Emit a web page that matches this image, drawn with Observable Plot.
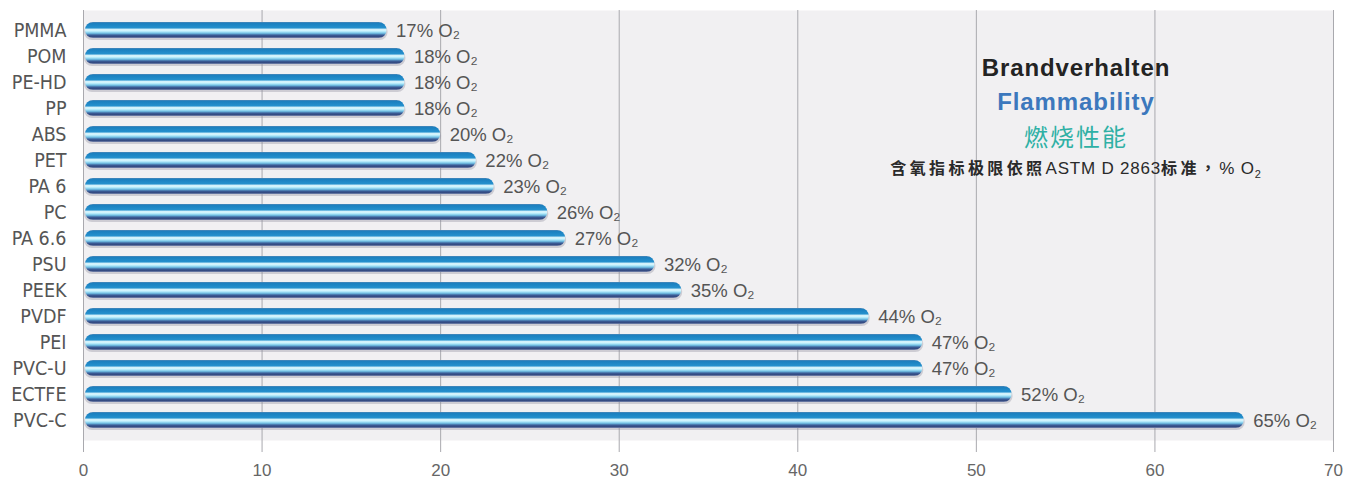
<!DOCTYPE html>
<html>
<head>
<meta charset="utf-8">
<script src="https://cdn.jsdelivr.net/npm/d3@7"></script>
<script src="https://cdn.jsdelivr.net/npm/@observablehq/plot@0.6"></script>
<style>
  html, body { margin: 0; padding: 0; background: #ffffff; }
  #wrap { position: relative; width: 1368px; height: 482px; }
  #legend { position: absolute; left: 866px; top: 51px; width: 420px; text-align: center; font-family: "Liberation Sans", Arial, sans-serif; white-space: nowrap; }
  #legend .t1 { font-size: 24px; font-weight: bold; color: #232323; line-height: 34px; letter-spacing: 0.9px; }
  #legend .t2 { font-size: 24px; font-weight: bold; color: #3c78bd; line-height: 34px; letter-spacing: 0.9px; }
  #legend .t3 { font-size: 24px; color: #2fb0a5; line-height: 33px; letter-spacing: 2px; font-family: "Noto Sans CJK SC", sans-serif; }
  #legend .t4 { font-size: 16px; font-weight: bold; color: #2a2a2a; line-height: 30px; letter-spacing: 3.4px; font-family: "Noto Sans CJK TC", "Liberation Sans", sans-serif; }
  #legend .t4 .lat { font-family: "Liberation Sans", Arial, sans-serif; font-weight: normal; font-size: 17px; letter-spacing: 0.8px; }
</style>
</head>
<body>
<div id="wrap">
  <div id="chart"></div>
  <div id="legend">
    <div class="t1">Brandverhalten</div>
    <div class="t2">Flammability</div>
    <div class="t3">燃烧性能</div>
    <div class="t4" lang="zh-TW">含氧指标极限依照<span class="lat">ASTM D 2863</span>标准，<span class="lat">% O<sub style="font-size:11px">2</sub></span></div>
  </div>
</div>
<script>
const materials = ["PMMA","POM","PE-HD","PP","ABS","PET","PA 6","PC","PA 6.6","PSU","PEEK","PVDF","PEI","PVC-U","ECTFE","PVC-C"];
const barValues = [17, 18, 18, 18, 20, 22, 23, 26, 27, 32, 33.5, 44, 47, 47, 52, 65];
const labelValues = [17, 18, 18, 18, 20, 22, 23, 26, 27, 32, 35, 44, 47, 47, 52, 65];
const xTicks = [0, 10, 20, 30, 40, 50, 60, 70];

const data = materials.map((m, i) => ({
  material: m,
  value: barValues[i],
  label: labelValues[i] + "% O\u2082"
}));

const sans = "'Liberation Sans', Arial, sans-serif";
const cond = "'DejaVu Sans Condensed', 'Liberation Sans', Arial, sans-serif";

const chart = Plot.plot({
  width: 1368,
  height: 482,
  marginLeft: 83,
  marginRight: 35,
  marginTop: 10,
  marginBottom: 42,
  style: { fontFamily: sans, background: "transparent" },
  x: { domain: [0, 70], ticks: xTicks, label: null },
  y: { domain: materials, padding: 0.4, align: 0.5, label: null },
  marks: [
    Plot.frame({ fill: "#f1f0f2", stroke: null }),
    Plot.ruleX(xTicks, { stroke: "#a9a9ae", strokeWidth: 1, insetBottom: -12 }),
    Plot.axisX({ ticks: xTicks, tickSize: 0, tickPadding: 23, fontSize: 17, fill: "#666666", color: "#666666", label: null }),
    Plot.axisY({ tickSize: 0, tickPadding: 17, fontSize: 19.5, fontFamily: cond, fill: "#555555", color: "#555555", label: null }),
    Plot.barX(data, { x: "value", y: "material", fill: "#8a8a9a", fillOpacity: 0.35, rx: 8, dy: 2, dx: 1 }),
    Plot.barX(data, { x: "value", y: "material", fill: "url(#barGrad)", rx: 8, insetLeft: 2 }),
    Plot.text(data, { x: "value", y: "material", text: "label", textAnchor: "start", dx: 9, dy: 1, fontSize: 18.5, fill: "#555555", style: "letter-spacing:0.4px" })
  ]
});

const ns = "http://www.w3.org/2000/svg";
const defs = document.createElementNS(ns, "defs");
const grad = document.createElementNS(ns, "linearGradient");
grad.setAttribute("id", "barGrad");
grad.setAttribute("x1", "0"); grad.setAttribute("y1", "0");
grad.setAttribute("x2", "0"); grad.setAttribute("y2", "1");
const stops = [
  [0, "#4a86b8"], [0.1, "#1a80c0"], [0.36, "#2590cd"], [0.48, "#e6fbff"],
  [0.58, "#bdeefc"], [0.7, "#73c3e6"], [0.82, "#3a5d98"], [0.92, "#34497f"], [1, "#8190b5"]
];
for (const [o, c] of stops) {
  const s = document.createElementNS(ns, "stop");
  s.setAttribute("offset", o);
  s.setAttribute("stop-color", c);
  grad.appendChild(s);
}
defs.appendChild(grad);
chart.insertBefore(defs, chart.firstChild);

document.getElementById("chart").appendChild(chart);
</script>
</body>
</html>
